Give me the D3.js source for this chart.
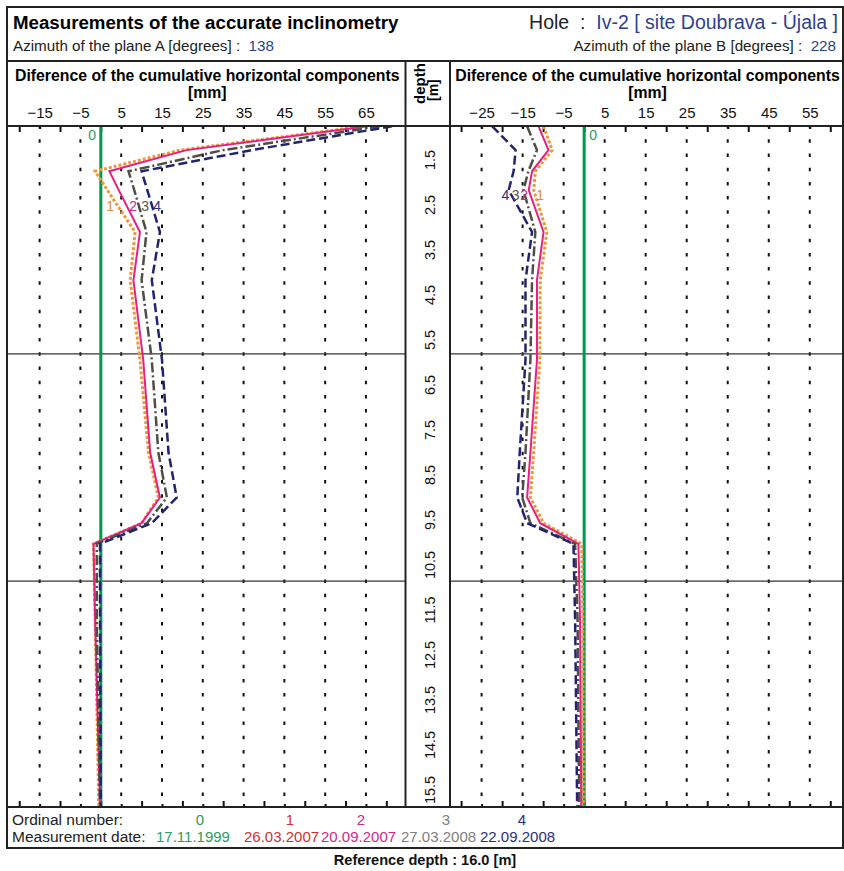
<!DOCTYPE html>
<html>
<head>
<meta charset="utf-8">
<script src="https://cdnjs.cloudflare.com/ajax/libs/d3/7.8.5/d3.min.js"></script>
<style>
  body { margin: 0; background: #fff; }
  svg { display: block; font-family: "Liberation Sans", Arial, sans-serif; }
  text { white-space: pre; }
</style>
</head>
<body>
<div id="main"></div>
<script>
// depth of the readings [m]
const depths = [0.75, 1.28, 1.75, 2.17, 3.1, 4.17, 5.94, 8.0, 9.0, 9.57, 10.03, 11.72, 15.86]

// plane A, difference of cumulative horizontal components [mm]
const planeA0 = [0, 0, 0, 0, 0, 0, 0, 0, 0, 0, 0, 0, 0]
const planeA1 = [64.3, 19.5, -1.4, 1.6, 8.4, 7.2, 9.6, 11.7, 14.1, 10.0, -1.8, -1.4, -0.5]
const planeA2 = [65.3, 21.0, 2.1, 4.4, 9.6, 8.0, 10.4, 12.1, 14.5, 10.0, -1.8, -1.4, -0.2]
const planeA3 = [68.4, 30.0, 6.8, 8.2, 11.2, 10.0, 12.5, 14.1, 16.2, 11.3, -1.0, -1.0, -0.2]
const planeA4 = [71.4, 37.0, 10.0, 11.4, 14.5, 12.5, 15.0, 16.6, 18.6, 12.5, -0.2, -0.2, 0]

// plane B
const planeB0 = [0, 0, 0, 0, 0, 0, 0, 0, 0, 0, 0, 0, 0]
const planeB1 = [-9.9, -7.8, -11.9, -12.3, -9.1, -10.7, -10.8, -12.3, -13.1, -9.9, -0.6, -0.3, -0.2]
const planeB2 = [-11.1, -8.7, -12.7, -13.5, -9.9, -11.5, -11.5, -13.1, -13.9, -10.7, -1.4, -1.0, -0.7]
const planeB3 = [-13.9, -11.5, -13.6, -14.8, -11.9, -12.7, -13.1, -14.3, -15.1, -13.1, -2.2, -1.6, -1.2]
const planeB4 = [-22.4, -16.7, -17.2, -18.4, -12.7, -14.3, -14.3, -15.7, -16.3, -13.9, -2.6, -2.2, -1.7]

const ordinals = [0, 1, 2, 3, 4]
const dates = ["17.11.1999", "26.03.2007", "20.09.2007", "27.03.2008", "22.09.2008"]

// where the ordinal numbers are written next to the curves [mm, m]
const labelA = [[-2.1, 0.94], [2.3, 2.52], [7.9, 2.52], [10.9, 2.52], [13.8, 2.52]]
const labelB = [[2.2, 0.94], [-10.7, 2.28], [-14.6, 2.28], [-16.7, 2.28], [-19.2, 2.28]]

const ticksA = [-15, -5, 5, 15, 25, 35, 45, 55, 65]
const ticksB = [-25, -15, -5, 5, 15, 25, 35, 45, 55]
const depthLabels = [1.5, 2.5, 3.5, 4.5, 5.5, 6.5, 7.5, 8.5, 9.5, 10.5, 11.5, 12.5, 13.5, 14.5, 15.5]
const pageBreaks = [5.81, 10.86]

const azimuthA = 138
const azimuthB = 228
const hole = "Iv-2 [ site Doubrava - Újala ]"
const refDepth = "16.0"

// styles
const curveColor = ["#00984a", "#f0973a", "#e6207f", "#4f4f48", "#232370"]
const curveDash = [null, "3,2", null, "10,3,2,3", "9,4"]
const curveWidth = [3, 3, 2, 2.5, 2.5]
const textColor = ["#2c9c5c", "#d2302e", "#cf2a8a", "#808080", "#2d2d7e"]
const labelColor = ["#2c9c5c", "#e8893a", "#d02a86", "#555", "#2d2d7e"]
const blue = "#2f3f8f"
const legendNumX = [200, 290, 361, 446, 522]
const legendDateX = [156, 244, 321, 401, 480]

const W = 844, H = 871
const L = 7, R = 843, T = 7
const sepY = 61, plotTop = 126, plotBottom = 807, legBottom = 848
const colA = [L, 405.5], colB = [450, R]

const svg = d3.select("#main").append("svg").attr("width", W).attr("height", H)
svg.append("rect").attr("width", W).attr("height", H).attr("fill", "#fff")

const xA = d3.scaleLinear().domain([-23, 74.7]).range(colA)
const xB = d3.scaleLinear().domain([-32.7, 63.1]).range(colB)
const y = d3.scaleLinear().domain([0.744, 15.878]).range([plotTop, plotBottom])

// header
svg.append("text").attr("x", 13).attr("y", 29).attr("font-size", 18.7).attr("font-weight", "bold")
  .text("Measurements of the accurate inclinometry")
let t = svg.append("text").attr("x", 13).attr("y", 51).attr("font-size", 15.2).attr("fill", "#222")
t.append("tspan").text("Azimuth of the plane A [degrees] :  ")
t.append("tspan").attr("fill", blue).text(azimuthA)
t = svg.append("text").attr("x", 838).attr("y", 29).attr("font-size", 19.5).attr("text-anchor", "end").attr("fill", "#222")
t.append("tspan").text("Hole  :  ")
t.append("tspan").attr("fill", blue).text(hole)
t = svg.append("text").attr("x", 836).attr("y", 51).attr("font-size", 15.2).attr("text-anchor", "end").attr("fill", "#222")
t.append("tspan").text("Azimuth of the plane B [degrees] :  ")
t.append("tspan").attr("fill", blue).text(azimuthB)

function panel(x, ticks, series, labels) {
  const g = svg.append("g")
  const [x0, x1] = x.range()
  const cx = (x0 + x1) / 2 + 1
  g.append("text").attr("x", cx).attr("y", 81).attr("text-anchor", "middle")
    .attr("font-size", 15.8).attr("font-weight", "bold")
    .text("Diference of the cumulative horizontal components")
  g.append("text").attr("x", cx).attr("y", 98).attr("text-anchor", "middle")
    .attr("font-size", 15.8).attr("font-weight", "bold").text("[mm]")

  // tick labels
  const lab = g.append("g").attr("transform", `translate(0,${plotTop})`)
    .call(d3.axisTop(x).tickValues(ticks).tickSize(0).tickPadding(8))
  lab.select(".domain").remove()
  lab.attr("font-family", null).attr("font-size", 15)
  lab.selectAll("text").attr("fill", "#111")

  // inner ticks, every 5 mm
  const all = d3.range(Math.ceil(x.domain()[0] / 5) * 5, x.domain()[1], 5)
  const tens = all.filter(v => v % 10 === 0)
  const fives = all.filter(v => v % 10 !== 0)
  ;[[d3.axisBottom, plotTop], [d3.axisTop, plotBottom]].forEach(([ax, yy]) => {
    const a = g.append("g").attr("transform", `translate(0,${yy})`)
      .call(ax(x).tickValues(tens).tickSize(6).tickFormat(""))
    a.select(".domain").remove()
    a.selectAll("line").attr("stroke", "#111").attr("stroke-width", 2)
    const b = g.append("g").attr("transform", `translate(0,${yy})`)
      .call(ax(x).tickValues(fives).tickSize(3).tickFormat(""))
    b.select(".domain").remove()
    b.selectAll("line").attr("stroke", "#111").attr("stroke-width", 2)
  })

  // dotted grid
  g.selectAll(".grid").data(ticks).enter().append("line")
    .attr("x1", d => x(d)).attr("x2", d => x(d))
    .attr("y1", plotTop).attr("y2", plotBottom)
    .attr("stroke", "#111").attr("stroke-width", 2)
    .attr("stroke-dasharray", "3.5,10.7").attr("stroke-dashoffset", 0.9)

  // page breaks
  g.selectAll(".brk").data(pageBreaks).enter().append("line")
    .attr("x1", x0).attr("x2", x1)
    .attr("y1", d => y(d)).attr("y2", d => y(d))
    .attr("stroke", "#333").attr("stroke-width", 1.2)

  const line = d3.line().x(d => x(d[0])).y(d => y(d[1]))
  series.forEach((s, i) => {
    g.append("path").datum(s.map((v, j) => [v, depths[j]]))
      .attr("d", line).attr("fill", "none")
      .attr("stroke", curveColor[i]).attr("stroke-width", curveWidth[i])
      .attr("stroke-dasharray", curveDash[i]).attr("stroke-linejoin", "miter")
  })

  g.selectAll(".lab").data(labels).enter().append("text")
    .attr("x", d => x(d[0])).attr("y", d => y(d[1]))
    .attr("dy", "0.35em").attr("text-anchor", "middle")
    .attr("font-size", 14).attr("fill", (d, i) => labelColor[i])
    .text((d, i) => ordinals[i])
}

panel(xA, ticksA, [planeA0, planeA1, planeA2, planeA3, planeA4], labelA)
panel(xB, ticksB, [planeB0, planeB1, planeB2, planeB3, planeB4], labelB)

// depth column
const dc = (colA[1] + colB[0]) / 2
svg.append("text").attr("transform", `translate(${dc - 3},104) rotate(-90)`)
  .attr("font-size", 15).attr("font-weight", "bold").text("depth")
svg.append("text").attr("transform", `translate(${dc + 10},101) rotate(-90)`)
  .attr("font-size", 14).attr("font-weight", "bold").text("[m]")
svg.selectAll(".dl").data(depthLabels).enter().append("text")
  .attr("transform", d => `translate(${dc + 2},${y(d)}) rotate(-90)`)
  .attr("text-anchor", "middle").attr("dy", "0.35em")
  .attr("font-size", 14.5).attr("fill", "#111")
  .text(d => d3.format(".1f")(d))

// frame
const frame = svg.append("g").attr("stroke", "#222").attr("stroke-width", 2).attr("fill", "none")
frame.append("rect").attr("x", L).attr("y", T).attr("width", R - L).attr("height", legBottom - T)
frame.append("line").attr("x1", L).attr("x2", R).attr("y1", sepY).attr("y2", sepY)
frame.append("line").attr("x1", L).attr("x2", R).attr("y1", plotTop).attr("y2", plotTop)
frame.append("line").attr("x1", L).attr("x2", R).attr("y1", plotBottom).attr("y2", plotBottom)
;[colA[1], colB[0]].forEach(xx => {
  frame.append("line").attr("x1", xx).attr("x2", xx).attr("y1", sepY).attr("y2", plotBottom)
})

// legend
svg.append("text").attr("x", 12).attr("y", 825).attr("font-size", 15.5).attr("fill", "#222").text("Ordinal number:")
svg.append("text").attr("x", 12).attr("y", 842).attr("font-size", 15.5).attr("fill", "#222").text("Measurement date:")
svg.selectAll(".ln").data(ordinals).enter().append("text")
  .attr("x", (d, i) => legendNumX[i]).attr("y", 825).attr("text-anchor", "middle")
  .attr("font-size", 15).attr("fill", (d, i) => textColor[i]).text(d => d)
svg.selectAll(".ld").data(dates).enter().append("text")
  .attr("x", (d, i) => legendDateX[i]).attr("y", 842)
  .attr("font-size", 15).attr("fill", (d, i) => textColor[i]).text(d => d)

svg.append("text").attr("x", 425).attr("y", 865).attr("text-anchor", "middle")
  .attr("font-size", 14.6).attr("font-weight", "bold").attr("fill", "#111")
  .text(`Reference depth : ${refDepth} [m]`)
</script>
</body>
</html>
